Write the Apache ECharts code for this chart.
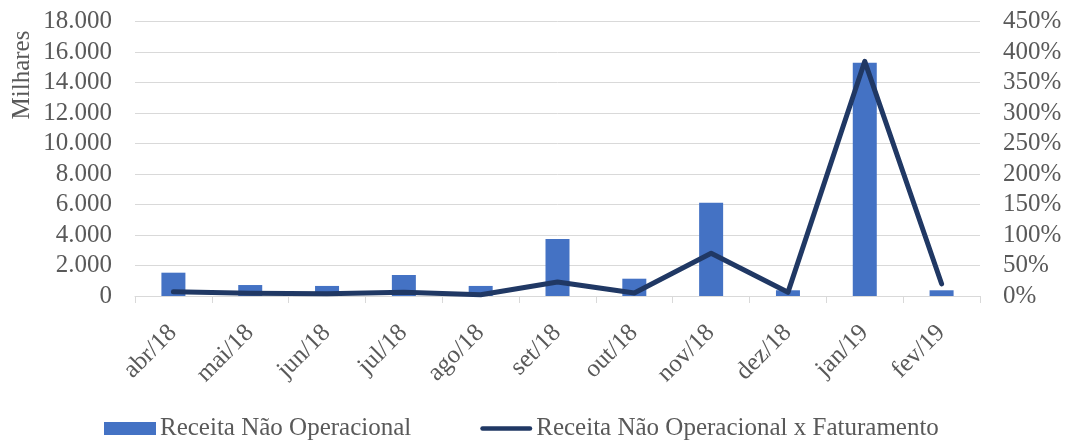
<!DOCTYPE html>
<html>
<head>
<meta charset="utf-8">
<script src="https://cdn.jsdelivr.net/npm/echarts@6/dist/echarts.min.js"></script>
<style>
  html, body { margin: 0; padding: 0; background: #fff; }
  #main { width: 1065px; height: 441px; }
</style>
</head>
<body>
<div id="main"></div>
<script>
const months = ["abr/18", "mai/18", "jun/18", "jul/18", "ago/18", "set/18", "out/18", "nov/18", "dez/18", "jan/19", "fev/19"];
// Receita Não Operacional (R$ mil)
const receita = [1530, 720, 660, 1380, 660, 3740, 1135, 6120, 375, 15300, 375];
// Receita Não Operacional x Faturamento (%)
const percFaturamento = [7, 4.5, 3.5, 6, 2, 23, 5, 70, 6, 385, 20];

const txtColor = "#595959";
const font = "Liberation Serif";
const fs = 25;

let chart = echarts.init(document.getElementById("main"));
let option = {
  animation: false,
  backgroundColor: "#fff",
  textStyle: { fontFamily: font },
  grid: { left: 135, right: 85, top: 21.7, bottom: 145 },
  legend: {
    left: 104,
    top: 416,
    padding: 0,
    itemGap: 69,
    itemWidth: 52,
    itemHeight: 13,
    textStyle: { fontFamily: font, fontSize: fs, color: txtColor, padding: [0, 0, 0, -1] },
    data: [
      { name: "Receita Não Operacional", icon: "rect" },
      {
        name: "Receita Não Operacional x Faturamento",
        icon: "path://M2.5,0 H54.5 A2.5,2.5 0 0 1 54.5,5 H2.5 A2.5,2.5 0 0 1 2.5,0 Z",
        itemStyle: { color: "#203864" },
      },
    ],
  },
  graphic: [
    {
      type: "text",
      x: 22,
      y: 75,
      rotation: Math.PI / 2,
      style: {
        text: "Milhares",
        font: fs + "px " + font,
        fill: txtColor,
        textAlign: "center",
        textVerticalAlign: "middle",
      },
    },
  ],
  xAxis: {
    type: "category",
    data: months,
    axisLine: { lineStyle: { color: "#D9D9D9", width: 1 } },
    axisTick: { show: true, length: 7, lineStyle: { color: "#D9D9D9" } },
    axisLabel: {
      rotate: 45,
      margin: 15,
      interval: 0,
      verticalAlign: "top",
      padding: [0, 13, 0, 0],
      color: txtColor,
      fontFamily: font,
      fontSize: fs,
    },
  },
  yAxis: [
    {
      type: "value",
      min: 0,
      max: 18000,
      interval: 2000,
      axisLine: { show: false },
      axisTick: { show: false },
      splitLine: { lineStyle: { color: "#D9D9D9", width: 1 } },
      axisLabel: {
        margin: 23,
        color: txtColor,
        fontFamily: font,
        fontSize: fs,
        formatter: function (v) {
          return v === 0 ? "0" : (v / 1000).toFixed(3);
        },
      },
    },
    {
      type: "value",
      min: 0,
      max: 450,
      interval: 50,
      axisLine: { show: false },
      axisTick: { show: false },
      splitLine: { show: false },
      axisLabel: {
        margin: 23,
        color: txtColor,
        fontFamily: font,
        fontSize: fs,
        formatter: "{value}%",
      },
    },
  ],
  series: [
    {
      name: "Receita Não Operacional",
      type: "bar",
      data: receita,
      barWidth: 24,
      itemStyle: { color: "#4472C4" },
    },
    {
      name: "Receita Não Operacional x Faturamento",
      type: "line",
      yAxisIndex: 1,
      data: percFaturamento,
      symbol: "none",
      lineStyle: { color: "#203864", width: 5, cap: "round", join: "round" },
      itemStyle: { color: "#203864" },
    },
  ],
};

option && chart.setOption(option);
</script>
</body>
</html>
